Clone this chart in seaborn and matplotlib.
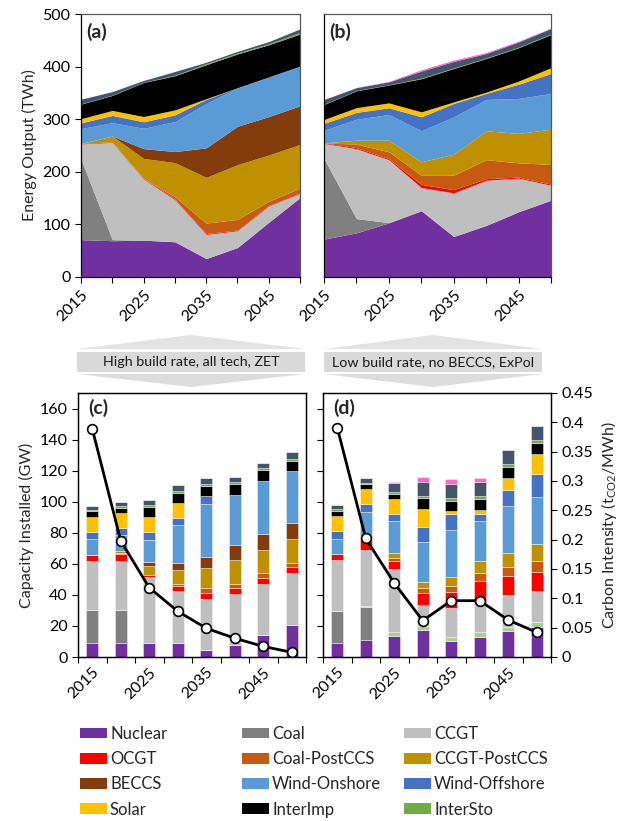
import numpy as np
import pandas as pd
import matplotlib
matplotlib.use("Agg")
import matplotlib.pyplot as plt
from matplotlib.patches import Patch, Polygon, Rectangle
import seaborn as sns

# ---------------------------------------------------------------- data
YEARS = [2015, 2020, 2025, 2030, 2035, 2040, 2045, 2050]
YEAR_LABELS = ["2015", "2025", "2035", "2045"]

TECHS = ["Nuclear", "Coal", "Biomass", "CCGT", "OCGT", "Coal-PostCCS",
         "CCGT-PostCCS", "BECCS", "Wind-Onshore", "Wind-Offshore", "Solar",
         "InterImp", "InterSto", "Other", "Storage"]
COLORS = ["#7030A0", "#808080", "#A9D18E", "#BFBFBF", "#FF0000", "#C55A11",
          "#BF9000", "#843C0C", "#5B9BD5", "#4472C4", "#FFC000",
          "#000000", "#70AD47", "#44546A", "#FF66CC"]
LEGEND_TECHS = ["Nuclear", "Coal", "CCGT", "OCGT", "Coal-PostCCS",
                "CCGT-PostCCS", "BECCS", "Wind-Onshore", "Wind-Offshore",
                "Solar", "InterImp", "InterSto"]

# (a) energy output, high build rate (TWh)
A_NUCLEAR = [71, 69, 70, 67, 35, 56, 104, 151]
A_COAL = [153, 2, 0, 0, 0, 0, 0, 0]
A_BIOMASS = [0, 0, 0, 0, 0, 0, 0, 0]
A_CCGT = [29, 185, 116, 80, 46, 32, 31, 8]
A_OCGT = [1, 1, 1, 1.5, 1.5, 1.5, 1, 1]
A_COALCCS = [0, 0, 0.5, 4, 20, 20, 8, 9]
A_CCGTCCS = [0, 11, 38, 65, 87, 104, 88, 83]
A_BECCS = [0, 0, 18.6, 21, 56, 73, 73, 73.5]
A_ONSHORE = [28, 25.5, 38.6, 57, 84, 73, 75, 75]
A_OFFSHORE = [11, 13.7, 12.4, 12.7, 8, 0.5, 0.5, 0.5]
A_SOLAR = [8, 9.5, 10, 9.5, 1.5, 0, 0, 0]
A_INTERIMP = [27.6, 28.6, 64.6, 65, 64.6, 64, 61, 61]
A_INTERSTO = [0.5, 0.5, 0.5, 1, 2, 2, 2, 3]
A_OTHER = [9, 6.7, 3.5, 7, 2.6, 3, 4, 6.7]
A_STORAGE = [0, 0, 0, 0, 0, 0, 0, 0]

# (b) energy output, low build rate (TWh)
B_NUCLEAR = [72, 84, 103, 126, 77, 98, 124, 146]
B_COAL = [153, 27, 0.5, 0, 0, 0, 0, 0]
B_BIOMASS = [0, 0, 0, 0, 0, 0, 0, 0]
B_CCGT = [29, 133, 119.5, 44, 83, 86, 64, 28.5]
B_OCGT = [1, 2, 2, 6, 6, 3, 2, 2]
B_COALCCS = [0, 6.5, 13, 17.5, 27.5, 36, 27, 37.5]
B_CCGTCCS = [0, 7.5, 22, 25.5, 40, 55, 56, 67]
B_BECCS = [0, 0, 0, 0, 0, 0, 0, 0]
B_ONSHORE = [24, 40, 49, 59, 71, 59.5, 66.5, 68]
B_OFFSHORE = [13, 13, 12.7, 26.6, 25.4, 11.5, 27, 38]
B_SOLAR = [7.5, 9, 9.3, 9.4, 3, 2.5, 6, 11]
B_INTERIMP = [28.5, 32, 34, 63, 63.6, 64, 63.5, 63]
B_INTERSTO = [0.5, 0.5, 0.5, 1, 1, 1, 1, 1]
B_OTHER = [9, 5.5, 5.5, 13.5, 12.4, 8.4, 10, 10.7]
B_STORAGE = [0, 0.5, 1, 2.5, 2.5, 2, 1.5, 0.5]

# (c) installed capacity, high build rate (GW)
C_NUCLEAR = [9.2, 9.2, 9.2, 9.2, 4.5, 7.5, 14, 20.6]
C_COAL = [21, 21, 0, 0, 0, 0, 0, 0]
C_BIOMASS = [0, 0, 0, 0, 0, 0, 0, 0]
C_CCGT = [31.6, 31.6, 42, 33, 32.7, 32.9, 33.1, 33.2]
C_OCGT = [3.9, 4.8, 1.9, 3.2, 4.3, 3.9, 3.9, 3.9]
C_COALCCS = [0, 0.5, 0, 1.3, 3, 3, 3, 3]
C_CCGTCCS = [0, 1.2, 5.6, 9.5, 12.7, 15.3, 15.2, 15.1]
C_BECCS = [0, 0, 2.2, 4.5, 7.5, 9.7, 10.1, 10.3]
C_ONSHORE = [10.1, 10.3, 14.4, 24.3, 33.8, 32.3, 34, 33.5]
C_OFFSHORE = [4.7, 4.7, 5, 4.7, 5.2, 0, 0, 0]
C_SOLAR = [9.7, 9.5, 9.7, 9.5, 0, 0, 0, 0]
C_INTERIMP = [3.5, 3.4, 6.9, 6.5, 6.5, 6.9, 6.9, 6.9]
C_INTERSTO = [0.9, 0.9, 1.1, 1.3, 1.3, 1.3, 1.3, 1.3]
C_OTHER = [2.8, 3, 3.2, 3.7, 3.9, 3, 3.4, 4.3]
C_STORAGE = [0, 0, 0, 0, 0, 0, 0, 0]

# (d) installed capacity, low build rate (GW)
D_NUCLEAR = [9, 11, 13.8, 17.4, 10.1, 13.1, 16.6, 19.1]
D_COAL = [20.9, 21, 0, 0, 0, 0, 0, 0]
D_BIOMASS = [0, 0.9, 2.2, 2.4, 3, 3, 3, 3.2]
D_CCGT = [32.3, 36, 40.9, 14, 18.3, 19.6, 20.6, 20.4]
D_OCGT = [3.9, 6.3, 4.9, 7.3, 10.3, 13.1, 11.8, 12.3]
D_COALCCS = [0, 1.1, 1.9, 3.2, 3.9, 5.2, 5.8, 7.1]
D_CCGTCCS = [0, 1.7, 3.2, 4.3, 6.2, 7.5, 9.2, 10.7]
D_BECCS = [0, 0, 0, 0, 0, 0, 0, 0]
D_ONSHORE = [10.1, 15.5, 20.4, 25.6, 30.1, 25.8, 30.5, 30.1]
D_OFFSHORE = [4.7, 4.9, 4.5, 9.7, 10.3, 4.7, 10.1, 14.8]
D_SOLAR = [9.7, 9.5, 9.7, 11.2, 1.5, 2.4, 7.5, 13.1]
D_INTERIMP = [3.5, 3.4, 3.7, 7.1, 6.7, 7.1, 7.1, 6.9]
D_INTERSTO = [1, 0.9, 1.1, 1.5, 2.2, 1.9, 2.2, 2.2]
D_OTHER = [3, 3, 5.8, 9, 8.8, 9, 9, 9]
D_STORAGE = [0, 0, 0.9, 3, 3.2, 3, 0, 0]

# carbon intensity of generation (tCO2/MWh)
CI_HIGH = [0.389, 0.198, 0.118, 0.078, 0.049, 0.032, 0.018, 0.008]
CI_LOW = [0.391, 0.202, 0.126, 0.062, 0.096, 0.096, 0.063, 0.042]

SCENARIO_HIGH = "High build rate, all tech, ZET"
SCENARIO_LOW = "Low build rate, no BECCS, ExPol"


def frame(nuc, coal, bio, ccgt, ocgt, coalccs, ccgtccs, beccs, onsh, offsh,
          solar, imp, sto, other, storage):
    cols = [nuc, coal, bio, ccgt, ocgt, coalccs, ccgtccs, beccs, onsh, offsh,
            solar, imp, sto, other, storage]
    return pd.DataFrame(dict(zip(TECHS, cols)), index=YEARS)


gen_a = frame(A_NUCLEAR, A_COAL, A_BIOMASS, A_CCGT, A_OCGT, A_COALCCS, A_CCGTCCS,
              A_BECCS, A_ONSHORE, A_OFFSHORE, A_SOLAR, A_INTERIMP, A_INTERSTO,
              A_OTHER, A_STORAGE)
gen_b = frame(B_NUCLEAR, B_COAL, B_BIOMASS, B_CCGT, B_OCGT, B_COALCCS, B_CCGTCCS,
              B_BECCS, B_ONSHORE, B_OFFSHORE, B_SOLAR, B_INTERIMP, B_INTERSTO,
              B_OTHER, B_STORAGE)
cap_c = frame(C_NUCLEAR, C_COAL, C_BIOMASS, C_CCGT, C_OCGT, C_COALCCS, C_CCGTCCS,
              C_BECCS, C_ONSHORE, C_OFFSHORE, C_SOLAR, C_INTERIMP, C_INTERSTO,
              C_OTHER, C_STORAGE)
cap_d = frame(D_NUCLEAR, D_COAL, D_BIOMASS, D_CCGT, D_OCGT, D_COALCCS, D_CCGTCCS,
              D_BECCS, D_ONSHORE, D_OFFSHORE, D_SOLAR, D_INTERIMP, D_INTERSTO,
              D_OTHER, D_STORAGE)

# ---------------------------------------------------------------- style
sns.set_theme(style="ticks")
plt.rcParams["font.family"] = ["Lato", "DejaVu Sans"]
plt.rcParams["axes.edgecolor"] = "black"
plt.rcParams["axes.linewidth"] = 0.9
plt.rcParams["xtick.color"] = "black"
plt.rcParams["ytick.color"] = "black"
plt.rcParams["xtick.major.size"] = 4
plt.rcParams["ytick.major.size"] = 4
plt.rcParams["xtick.major.width"] = 0.8
plt.rcParams["ytick.major.width"] = 0.8
FS = 11.5
TAG_FS = 14
palette = dict(zip(TECHS, COLORS))

W, H = 629, 821
fig = plt.figure(figsize=(W / 100, H / 100), dpi=100)


def box(left, top, right, bottom):
    return [left / W, 1 - bottom / H, (right - left) / W, (bottom - top) / H]


ax_a = fig.add_axes(box(81, 14, 300, 277))
ax_b = fig.add_axes(box(324, 14, 551, 277))
ax_c = fig.add_axes(box(78, 393, 306, 657))
ax_d = fig.add_axes(box(323, 393, 551, 657))


# ---------------------------------------------------------------- area panels
def area_panel(ax, df, tag, show_y):
    ax.stackplot(df.index, df.T.values, colors=[palette[t] for t in TECHS],
                 linewidth=0)
    ax.set_xlim(2015, 2050)
    ax.set_ylim(0, 500)
    ax.set_xticks(YEARS)
    ax.set_xticklabels([str(y) if str(y) in YEAR_LABELS else "" for y in YEARS],
                       rotation=45, ha="right", rotation_mode="anchor",
                       fontsize=FS)
    ax.set_yticks(range(0, 501, 100))
    if show_y:
        ax.tick_params(axis="y", labelsize=FS)
        ax.set_ylabel("Energy Output (TWh)", fontsize=FS)
    else:
        ax.tick_params(axis="y", left=False, labelleft=False)
    for s in ("top", "right"):
        ax.spines[s].set_color("#595959")
    ax.text(0.025, 0.93, tag, transform=ax.transAxes, fontsize=TAG_FS,
            fontweight="bold", ha="left", va="center")


area_panel(ax_a, gen_a, "(a)", True)
area_panel(ax_b, gen_b, "(b)", False)


# ---------------------------------------------------------------- bar panels
def bar_panel(ax, df, ci, tag, show_left, show_right):
    x = np.arange(len(df.index))
    bottom = np.zeros(len(x))
    for t in TECHS:
        vals = df[t].values
        ax.bar(x, vals, bottom=bottom, width=0.42, color=palette[t],
               edgecolor=(1, 1, 1, 0.55), linewidth=0.5, zorder=2)
        bottom += vals
    ax.set_xlim(-0.5, len(x) - 0.5)
    ax.set_ylim(0, 170)
    ax.set_xticks(np.arange(-0.5, len(x), 1.0))
    ax.set_xticklabels([])
    ax.set_xticks([0, 2, 4, 6], labels=YEAR_LABELS, minor=True)
    ax.tick_params(axis="x", which="minor", length=0, labelsize=FS, pad=6)
    for lab in ax.get_xticklabels(minor=True):
        lab.set_rotation(45)
        lab.set_ha("right")
        lab.set_rotation_mode("anchor")
    ax.set_yticks(range(0, 161, 20))
    if show_left:
        ax.tick_params(axis="y", labelsize=FS)
        ax.set_ylabel("Capacity Installed (GW)", fontsize=FS)
    else:
        ax.tick_params(axis="y", left=False, labelleft=False)

    ax2 = ax.twinx()
    sns.lineplot(x=x, y=ci, ax=ax2, color="black", linewidth=2, marker="o",
                 markersize=7, markerfacecolor="white",
                 markeredgecolor="black", markeredgewidth=1.2, zorder=5)
    ax2.set_ylim(0, 0.45)
    ax2.set_xlim(-0.5, len(x) - 0.5)
    ax2.set_yticks(np.arange(0, 0.451, 0.05))
    if show_right:
        ax2.set_yticklabels(["0", "0.05", "0.1", "0.15", "0.2", "0.25",
                             "0.3", "0.35", "0.4", "0.45"], fontsize=FS)
        ax2.set_ylabel(r"Carbon Intensity (t$_{\mathregular{CO2}}$/MWh)",
                       fontsize=FS)
    else:
        ax2.tick_params(axis="y", right=False, labelright=False)
        ax2.set_ylabel("")
    ax.text(0.045, 0.943, tag, transform=ax.transAxes, fontsize=TAG_FS,
            fontweight="bold", ha="left", va="center")


bar_panel(ax_c, cap_c, CI_HIGH, "(c)", True, False)
bar_panel(ax_d, cap_d, CI_LOW, "(d)", False, True)


# ---------------------------------------------------------------- scenario banners
def px(x, y):
    return (x / W, 1 - y / H)


def banner(x0, x1, text):
    xm = (x0 + x1) / 2
    fig.patches.append(Polygon([px(x0, 349), px(xm, 335), px(x1, 349)],
                               closed=True, transform=fig.transFigure,
                               facecolor="#E3E3E3", edgecolor="none"))
    fig.patches.append(Rectangle(px(x0, 372), (x1 - x0) / W, 20 / H,
                                 transform=fig.transFigure,
                                 facecolor="#D9D9D9", edgecolor="none"))
    fig.patches.append(Polygon([px(x0, 374), px(xm, 387), px(x1, 374)],
                               closed=True, transform=fig.transFigure,
                               facecolor="#DDDDDD", edgecolor="none"))
    fig.text(xm / W, 1 - 362 / H, text, ha="center", va="center",
             fontsize=10.3, color="#1a1a1a")


banner(77, 305, SCENARIO_HIGH)
banner(324, 542, SCENARIO_LOW)

# ---------------------------------------------------------------- legend
rows = [LEGEND_TECHS[i:i + 3] for i in range(0, 12, 3)]
col_x = [80, 242, 404]
for c, x0 in enumerate(col_x):
    names = [r[c] for r in rows]
    handles = [Patch(facecolor=palette[n], edgecolor="none", label=n)
               for n in names]
    fig.legend(handles=handles, loc="upper left",
               bbox_to_anchor=(x0 / W, 1 - 726 / H), frameon=False,
               fontsize=12, handlelength=1.6, handleheight=0.6,
               handletextpad=0.2, labelspacing=0.55, borderpad=0,
               borderaxespad=0)

fig.savefig("out.png", dpi=100)
